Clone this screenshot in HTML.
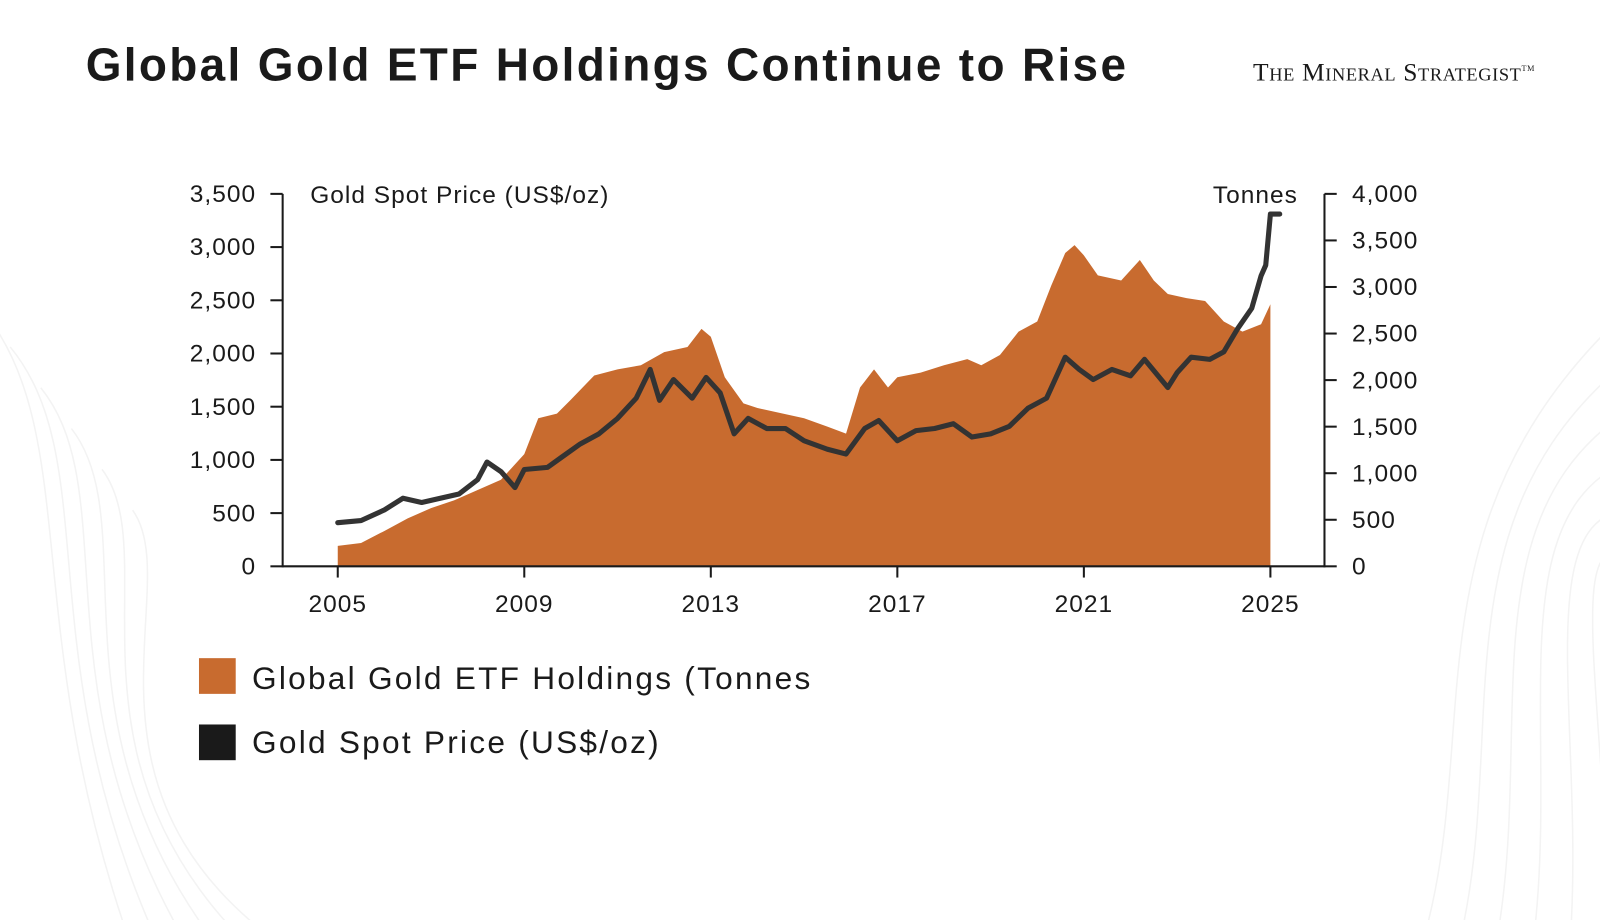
<!DOCTYPE html>
<html><head><meta charset="utf-8"><style>
body{margin:0;width:1600px;height:902px;background:#fff;overflow:hidden;font-family:"Liberation Sans",sans-serif;}
#wrap{position:absolute;left:0;top:0;width:1600px;height:902px;transform:scale(1.0204);transform-origin:0 0;}
#title{position:absolute;left:84px;top:38px;font-size:45px;font-weight:bold;color:#1a1a1a;letter-spacing:2.3px;}
#brand{position:absolute;left:1228px;top:58px;font-family:"Liberation Serif",serif;font-variant:small-caps;font-size:25px;color:#1a1a1a;letter-spacing:0.6px;}
#brand sup{font-size:8px;}
svg{position:absolute;left:0;top:0;}
</style></head><body>
<div id="wrap">
<div id="title">Global Gold ETF Holdings Continue to Rise</div>
<div id="brand">The Mineral Strategist<sup>TM</sup></div>
<svg id="chart" width="1600" height="902"></svg>
</div>
<script>
const etfYears=[2005.0,2005.5,2006.0,2006.5,2007.0,2007.5,2008.0,2008.5,2009.0,2009.3,2009.7,2010.0,2010.5,2011.0,2011.5,2012.0,2012.5,2012.8,2013.0,2013.3,2013.7,2014.0,2014.5,2015.0,2015.5,2015.9,2016.2,2016.5,2016.8,2017.0,2017.5,2018.0,2018.5,2018.8,2019.2,2019.6,2020.0,2020.3,2020.6,2020.8,2021.0,2021.3,2021.8,2022.2,2022.5,2022.8,2023.2,2023.6,2024.0,2024.4,2024.8,2025.0];
const etfTonnes=[220,250,380,515,625,710,820,930,1205,1590,1640,1790,2050,2115,2160,2300,2355,2550,2465,2030,1750,1700,1645,1590,1500,1425,1920,2115,1920,2030,2080,2160,2225,2160,2270,2520,2630,3015,3365,3450,3340,3125,3070,3290,3070,2925,2880,2850,2630,2520,2600,2815];
const priceYears=[2005.0,2005.5,2006.0,2006.4,2006.8,2007.2,2007.6,2008.0,2008.2,2008.5,2008.8,2009.0,2009.5,2009.8,2010.2,2010.6,2011.0,2011.4,2011.7,2011.9,2012.2,2012.6,2012.9,2013.2,2013.5,2013.8,2014.2,2014.6,2015.0,2015.5,2015.9,2016.3,2016.6,2017.0,2017.4,2017.8,2018.2,2018.6,2019.0,2019.4,2019.8,2020.2,2020.6,2020.9,2021.2,2021.6,2022.0,2022.3,2022.8,2023.0,2023.3,2023.7,2024.0,2024.3,2024.6,2024.8,2024.9,2025.0,2025.2];
const priceUsd=[410,430,530,640,600,640,680,815,980,890,740,910,930,1025,1150,1245,1390,1580,1850,1560,1755,1580,1775,1630,1245,1390,1295,1295,1180,1100,1055,1295,1370,1180,1275,1295,1340,1215,1245,1315,1485,1580,1965,1850,1755,1850,1790,1945,1680,1820,1965,1945,2015,2235,2425,2730,2830,3310,3310];
const leftTicks=[0,500,1000,1500,2000,2500,3000,3500];
const leftTickLabels=["0","500","1,000","1,500","2,000","2,500","3,000","3,500"];
const rightTicks=[0,500,1000,1500,2000,2500,3000,3500,4000];
const rightTickLabels=["0","500","1,000","1,500","2,000","2,500","3,000","3,500","4,000"];
const xTicks=[2005,2009,2013,2017,2021,2025];

const NS="http://www.w3.org/2000/svg";
const svg=document.getElementById('chart');
const x=v=>331+(v-2005)*45.7;
const yL=v=>555-v*365/3500;
const yR=v=>555-v*365/4000;
function mk(t,a,p){const e=document.createElementNS(NS,t);for(const k in a)e.setAttribute(k,a[k]);(p||svg).appendChild(e);return e;}

const bg=mk('g',{fill:'none',stroke:'#f3f3f3','stroke-width':1.5});


for(let i=0;i<6;i++){mk('path',{d:`M${-20+i*30},${300+i*40} C${80+i*20},${420+i*30} ${20+i*10},${600+i*30} ${120+i*25},902`},bg);}
for(let i=0;i<6;i++){mk('path',{d:`M${1400+i*35},902 C${1450+i*25},700 ${1380+i*30},500 ${1600},${300+i*50}`},bg);}

let d=`M${x(etfYears[0])},555`;
etfYears.forEach((yr,i)=>d+=` L${x(yr)},${yR(etfTonnes[i])}`);
d+=` L${x(etfYears[etfYears.length-1])},555 Z`;
const area=mk('path',{d,fill:'#c86b2f'});



const pts=priceYears.map((yr,i)=>`${x(yr)},${yL(priceUsd[i])}`).join(' ');
const line=mk('polyline',{points:pts,fill:'none',stroke:'#333','stroke-width':5,'stroke-linejoin':'round','stroke-linecap':'round'});



const ax=mk('g',{stroke:'#1a1a1a','stroke-width':2});


mk('line',{x1:277,y1:190,x2:277,y2:556},ax);
mk('line',{x1:1298,y1:190,x2:1298,y2:556},ax);
mk('line',{x1:277,y1:555,x2:1298,y2:555},ax);
const tx=(s,a)=>{const e=mk('text',Object.assign({'font-size':24,fill:'#1a1a1a','font-family':'Liberation Sans, sans-serif','letter-spacing':1},a));e.textContent=s;return e;};
leftTicks.forEach((v,i)=>{mk('line',{x1:265,x2:277,y1:yL(v),y2:yL(v)},ax);
 const t=tx(leftTickLabels[i],{x:251,y:yL(v)+8,'text-anchor':'end'});
 
 });
rightTicks.forEach((v,i)=>{mk('line',{x1:1298,x2:1310,y1:yR(v),y2:yR(v)},ax);
 const t=tx(rightTickLabels[i],{x:1325,y:yR(v)+8});
 
 });
xTicks.forEach(v=>{mk('line',{x1:x(v),x2:x(v),y1:555,y2:566},ax);
 const t=tx(String(v),{x:x(v),y:600,'text-anchor':'middle'});
 
 });
const lt=tx('Gold Spot Price (US$/oz)',{x:304,y:199});


const rt=tx('Tonnes',{x:1272,y:199,'text-anchor':'end'});



const lg=mk('g',{});


const r1=mk('rect',{x:195,y:645,width:36,height:35,fill:'#c86b2f'},lg);


const r2=mk('rect',{x:195,y:710,width:36,height:35,fill:'#1a1a1a'},lg);


const l1=tx('Global Gold ETF Holdings (Tonnes',{x:247,y:675,'font-size':31,'letter-spacing':2.2});


const l2=tx('Gold Spot Price (US$/oz)',{x:247,y:738,'font-size':31,'letter-spacing':2.2});


</script>
</body></html>
